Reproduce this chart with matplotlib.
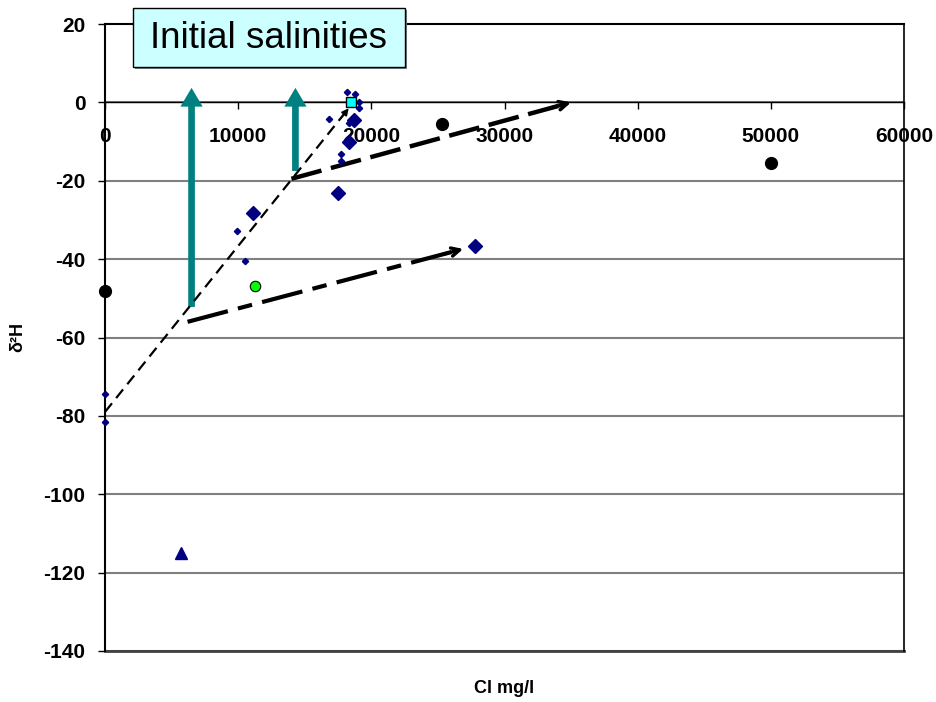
import matplotlib
matplotlib.use("Agg")
import matplotlib.pyplot as plt
from matplotlib.patches import Rectangle

plt.rcParams['font.family'] = ['Liberation Sans', 'DejaVu Sans']

# ---- data ----
cl_black = [0, 25300, 50000]
d2h_black = [-48.2, -5.5, -15.5]

cl_green = [11300]
d2h_green = [-46.8]

cl_tri = [5700]
d2h_tri = [-115]

cl_big = [11100, 17500, 27800, 18700, 18300]
d2h_big = [-28.2, -23.1, -36.6, -4.4, -10.0]

cl_small = [0, 0, 9900, 10500, 16800, 17700, 17700, 18200, 18800, 19100, 19100, 18300]
d2h_small = [-74.3, -81.5, -32.8, -40.4, -4.2, -13.3, -15.0, 2.6, 2.1, 0.2, -1.5, -5.3]

cl_sea = [18500]
d2h_sea = [0]

# vertical "initial salinity" arrows: (Cl, start d2H, end d2H)
init_cl = [6500, 14300]
init_from = [-52.2, -17.5]
init_to = [3.7, 3.7]

# mixing / trend lines: start and end points
mix_thin = [(0, -79), (18300, -1.5)]
mix_upper = [(14000, -19.5), (35000, 0)]
mix_lower = [(6200, -56), (26900, -37.4)]

x_ticks = [0, 10000, 20000, 30000, 40000, 50000, 60000]
y_ticks = [20, 0, -20, -40, -60, -80, -100, -120, -140]

navy = '#000080'
teal = '#008080'

fig = plt.figure(figsize=(9.36, 7.02), dpi=100)
ax = fig.add_axes([105 / 936, 1 - 651 / 702, 799 / 936, 627 / 702])
ax.set_xlim(0, 60000)
ax.set_ylim(-140, 20)

# grid lines
for yv in y_ticks[1:]:
    ax.axhline(yv, color='#808080', lw=1.5, zorder=1)

ax.spines['bottom'].set_position(('data', 0))
ax.spines['bottom'].set_linewidth(1.0)
ax.spines['left'].set_linewidth(1.5)
ax.spines['top'].set_linewidth(1.5)
ax.spines['right'].set_linewidth(1.2)
ax.axhline(-140, color='#404040', lw=2.0, zorder=2, clip_on=False)

ax.set_xticks(x_ticks)
ax.set_xticklabels([str(v) for v in x_ticks])
ax.set_yticks(y_ticks)
ax.set_yticklabels([str(v) for v in y_ticks])
ax.tick_params(axis='x', direction='out', length=5, width=1, pad=13,
               labelsize=15)
ax.tick_params(axis='y', direction='out', length=5, width=1, pad=9,
               labelsize=15)
for lbl in ax.get_xticklabels() + ax.get_yticklabels():
    lbl.set_fontweight('bold')

ax.set_xlabel('Cl mg/l', fontsize=13, fontweight='bold')
ax.xaxis.set_label_coords(0.5, -0.046)
ax.set_ylabel('δ²H', fontsize=13, fontweight='bold')
ax.yaxis.set_label_coords(-0.0985, 0.5)

# initial salinity arrows (filled shaft + head)
for xc, y0, y1 in zip(init_cl, init_from, init_to):
    ax.annotate('', xy=(xc, y1), xytext=(xc, y0),
                arrowprops=dict(arrowstyle='simple,head_length=1.35,head_width=1.6,tail_width=0.48',
                                fc=teal, ec='none', lw=0, shrinkA=0, shrinkB=0),
                zorder=3)

# thin dashed line with small arrowhead
(x0, y0), (x1, y1) = mix_thin
ax.plot([x0, x1], [y0, y1], color='black', lw=1.6, dashes=(5, 3), zorder=4)
ax.annotate('', xy=(x1, y1), xytext=(x1 - 600, y1 - 2.6),
            arrowprops=dict(arrowstyle='-|>,head_length=0.4,head_width=0.2',
                            color='black', lw=1.2, shrinkA=0, shrinkB=0), zorder=4)

# thick dashed line
(x0, y0), (x1, y1) = mix_upper
ax.plot([x0, x1 - 300], [y0, y1 - 0.3], color='black', lw=3.2,
        dashes=(7, 2.2), zorder=4)
ax.annotate('', xy=(x1, y1), xytext=(x1 - 1500, y1 - 1.4),
            arrowprops=dict(arrowstyle='->,head_length=0.6,head_width=0.3',
                            color='black', lw=2.6, shrinkA=0, shrinkB=0), zorder=4)

# dash-dot line
(x0, y0), (x1, y1) = mix_lower
ax.plot([x0, x1 - 300], [y0, y1 - 0.27], color='black', lw=3.0,
        dashes=(10, 2.5, 3.5, 2.5), zorder=4)
ax.annotate('', xy=(x1, y1), xytext=(x1 - 1500, y1 - 1.35),
            arrowprops=dict(arrowstyle='->,head_length=0.6,head_width=0.3',
                            color='black', lw=2.4, shrinkA=0, shrinkB=0), zorder=4)

# data points
ax.plot(cl_small, d2h_small, 'D', color=navy, ms=3.2, ls='none', zorder=5,
        clip_on=False)
ax.plot(cl_big, d2h_big, 'D', color=navy, ms=7, ls='none', zorder=5)
ax.plot(cl_tri, d2h_tri, '^', color=navy, ms=9, ls='none', zorder=5)
ax.plot(cl_black, d2h_black, 'o', color='black', ms=8.5, ls='none', zorder=5,
        clip_on=False)
ax.plot(cl_green, d2h_green, 'o', mfc='#00ff00', mec='black', mew=0.8, ms=7.5,
        ls='none', zorder=5)
ax.plot(cl_sea, d2h_sea, 's', mfc='#00ffff', mec='black', mew=1.0, ms=7,
        ls='none', zorder=6)

# "Initial salinities" label box
bx0, by0, bx1, by1 = 133 / 936, 1 - 67 / 702, 405 / 936, 1 - 8 / 702
fig.patches.append(Rectangle((bx0 + 0.002, by0 - 0.003), bx1 - bx0, by1 - by0,
                             transform=fig.transFigure, facecolor='#808080',
                             edgecolor='none', zorder=9))
fig.patches.append(Rectangle((bx0, by0), bx1 - bx0, by1 - by0,
                             transform=fig.transFigure, facecolor='#ccffff',
                             edgecolor='black', lw=1.0, zorder=10))
fig.text((bx0 + bx1) / 2, (by0 + by1) / 2 - 0.002, 'Initial salinities',
         fontsize=26.5, ha='center', va='center', zorder=11)

fig.savefig('out.png', dpi=100)
